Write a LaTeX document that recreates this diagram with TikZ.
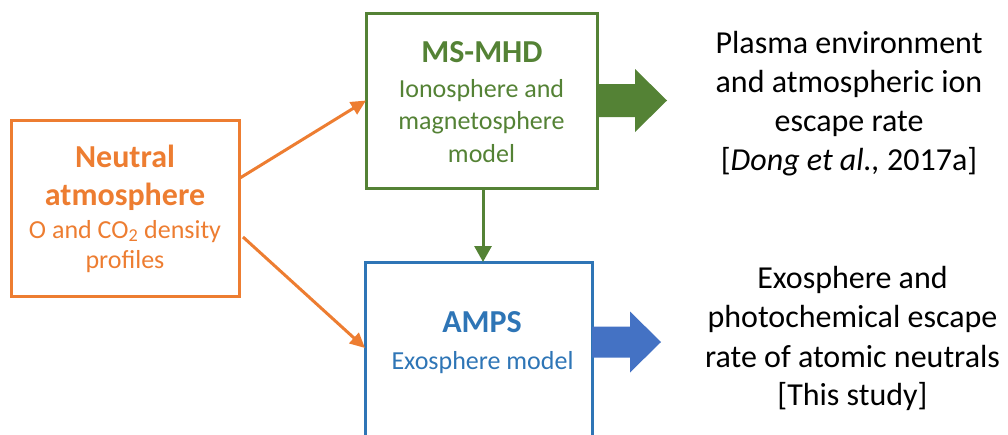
\documentclass[tikz,border=0pt]{standalone}
\usepackage{fontspec}
\setmainfont{Carlito}
\usetikzlibrary{arrows.meta,calc}
\definecolor{orng}{HTML}{ED7D31}
\definecolor{grn}{HTML}{548235}
\definecolor{bluebox}{HTML}{2E75B6}
\definecolor{bluearr}{HTML}{4472C4}
\begin{document}
\begin{tikzpicture}[x=1pt,y=-1pt,
  modelbox/.style={draw, line width=3pt, inner sep=0pt, outer sep=0pt},
  ln/.style={anchor=base, inner sep=0pt, outer sep=0pt},
  headtxt/.style={font=\fontsize{32}{38}\selectfont\bfseries},
  subtxt/.style={font=\fontsize{26}{31}\selectfont},
  resulttxt/.style={font=\fontsize{32}{39}\selectfont, text=black},
  link/.style={line width=3pt}
]
\useasboundingbox (0,0) rectangle (1008,434);
\clip (0,0) rectangle (1008,434);

% model boxes
\node[modelbox, draw=orng, minimum width=228pt, minimum height=176pt] (neut) at (125,208) {};
\node[modelbox, draw=grn, minimum width=231pt, minimum height=175pt] (mhd) at (481.5,100.5) {};
\node[modelbox, draw=bluebox, minimum width=227pt, minimum height=200pt, anchor=north] (amps) at (478.5,262) {};

% box texts
\node[ln, headtxt, text=orng] (n1) at (125,167) {Neutral};
\node[ln, headtxt, text=orng] (n2) at (125,205) {atmosphere};
\node[ln, subtxt, text=orng] (n3) at (125,238) {O and CO\textsubscript{2} density};
\node[ln, subtxt, text=orng] (n4) at (125,268) {profiles};

\node[ln, headtxt, text=grn] (m1) at (482,62) {MS-MHD};
\node[ln, subtxt, text=grn] (m2) at (481.5,97) {Ionosphere and};
\node[ln, subtxt, text=grn] (m3) at (481.5,129) {magnetosphere};
\node[ln, subtxt, text=grn] (m4) at (481.5,162) {model};

\node[ln, headtxt, text=bluebox] (a1) at (482,332) {AMPS};
\node[ln, subtxt, text=bluebox] (a2) at (482.5,369) {Exosphere model};

% results
\node[ln, resulttxt] (p1) at (849,53) {Plasma environment};
\node[ln, resulttxt] (p2) at (849,92) {and atmospheric ion};
\node[ln, resulttxt] (p3) at (849,131) {escape rate};
\node[ln, resulttxt] (p4) at (849,170) {[\textit{Dong et al.,} 2017a]};

\node[ln, resulttxt] (e1) at (852.5,288) {Exosphere and};
\node[ln, resulttxt] (e2) at (852.5,327) {photochemical escape};
\node[ln, resulttxt] (e3) at (852.5,367) {rate of atomic neutrals};
\node[ln, resulttxt] (e4) at (852.5,405) {[This study]};

% connectors
\coordinate (feed) at ($(mhd.south)+(1.5,0)$);
\draw[link, orng, -{Triangle[length=15pt,width=14pt]}]
  ($(neut.east)+(1,-30)$) -- (mhd.west);
\draw[link, orng, -{Triangle[length=15pt,width=14pt]}]
  ($(neut.east)+(4,29)$) -- ($(amps.north west)+(0,86)$);
\draw[link, grn, -{Triangle[length=16pt,width=17pt]}]
  (feed) -- (feed |- amps.north);

% block arrows towards the results
\fill[grn] ($(mhd.east)+(0,-16.5)$) -- ++(38,0) -- ++(0,-15) -- ++(32,31.5)
  -- ++(-32,31.5) -- ++(0,-15) -- ++(-38,0) -- cycle;
\fill[bluearr] ($(amps.north east)+(0,64.5)$) -- ++(38,0) -- ++(0,-15) -- ++(31,30.5)
  -- ++(-31,30.5) -- ++(0,-15) -- ++(-38,0) -- cycle;
\end{tikzpicture}
\end{document}
